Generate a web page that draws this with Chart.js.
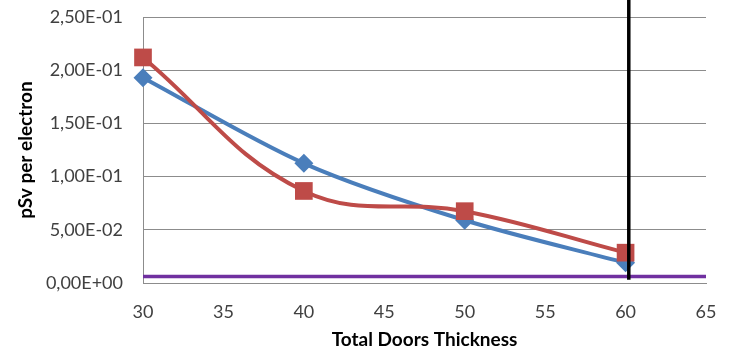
<!DOCTYPE html>
<html>
<head>
<meta charset="utf-8">
<script src="https://cdn.jsdelivr.net/npm/chart.js@4"></script>
<style>
  html, body { margin: 0; padding: 0; background: #fff; }
  #wrap { width: 731px; height: 355px; position: relative; }
</style>
</head>
<body>
<div id="wrap"><canvas id="myChart"></canvas></div>
<script>
const thickness = [30, 40, 50, 60];
const blueValues = [0.193, 0.1125, 0.059, 0.019];
const redValues = [0.212, 0.0865, 0.0675, 0.0285];
const limitValue = 0.006;
const markerX = 60.2;
const xTicks = [30, 35, 40, 45, 50, 55, 60, 65];
const yTicks = [0, 0.05, 0.10, 0.15, 0.20, 0.25];

function sci(v) {
  if (v === 0) return '0,00E+00';
  let e = Math.floor(Math.log10(Math.abs(v)) + 1e-9);
  let m = v / Math.pow(10, e);
  let sign = e < 0 ? '-' : '+';
  let ee = String(Math.abs(e)).padStart(2, '0');
  return m.toFixed(2).replace('.', ',') + 'E' + sign + ee;
}

const ctx = document.getElementById('myChart');
const font = 'Lato, "Open Sans", sans-serif';

new Chart(ctx, {
  type: 'line',
  data: {
    datasets: [{
      label: 'limit',
      data: [{x: 30, y: limitValue}, {x: 65, y: limitValue}],
      borderColor: '#7030A0',
      borderWidth: 3.5,
      pointRadius: 0,
      order: 3
    }, {
      label: 'blue',
      data: thickness.map((x, i) => ({x: x, y: blueValues[i]})),
      borderColor: '#4A7EBB',
      backgroundColor: '#4A7EBB',
      borderWidth: 4,
      tension: 0.3,
      pointStyle: 'rectRot',
      pointRadius: 9.5,
      pointBorderWidth: 0,
      clip: false,
      order: 2
    }, {
      label: 'red',
      data: thickness.map((x, i) => ({x: x, y: redValues[i]})),
      borderColor: '#BE4B48',
      backgroundColor: '#BE4B48',
      borderWidth: 4,
      tension: 0.4,
      pointStyle: 'rect',
      pointRadius: 12.5,
      pointBorderWidth: 0,
      clip: false,
      order: 1
    }, {
      label: 'marker',
      data: [{x: markerX, y: 0.003}, {x: markerX, y: 0.266}],
      borderColor: '#000',
      borderWidth: 3.5,
      pointRadius: 0,
      clip: false,
      order: 0
    }]
  },
  options: {
    responsive: true,
    maintainAspectRatio: false,
    animation: false,
    layout: { padding: { top: 17, right: 25, left: 0, bottom: 0 } },
    plugins: { legend: { display: false }, tooltip: { enabled: false } },
    scales: {
      x: {
        type: 'linear',
        min: 30,
        max: 65,
        afterBuildTicks: s => { s.ticks = xTicks.map(v => ({value: v})); },
        afterFit: s => { s.height = 72; s.paddingLeft = 0; s.paddingRight = 0; },
        grid: { display: false, drawTicks: false },
        border: { display: true, color: '#8c8c8c', width: 1 },
        ticks: { color: '#404040', font: { family: font, size: 18 }, padding: 18 },
        title: { display: true, text: 'Total Doors Thickness', color: '#000', font: { family: font, size: 19, weight: 'bold' }, padding: { top: 9 } }
      },
      y: {
        min: 0,
        max: 0.25,
        afterBuildTicks: s => { s.ticks = yTicks.map(v => ({value: v})); },
        afterFit: s => { s.width = 143; s.paddingTop = 0; s.paddingBottom = 0; },
        grid: { color: '#8c8c8c', drawTicks: false },
        border: { display: true, color: '#8c8c8c', width: 1 },
        ticks: { color: '#404040', font: { family: font, size: 18 }, padding: 20, callback: v => sci(v) },
        title: { display: true, text: 'pSv per electron', color: '#000', font: { family: font, size: 19, weight: 'bold' }, padding: { top: 14, bottom: 4 } }
      }
    }
  }
});
</script>
</body>
</html>
